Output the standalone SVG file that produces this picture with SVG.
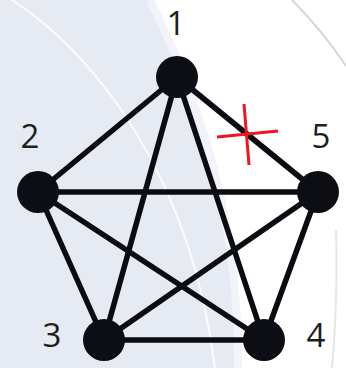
<svg xmlns="http://www.w3.org/2000/svg" width="346" height="368" viewBox="0 0 346 368">
<style>
.edge{stroke:#0b0c12;stroke-width:5.5;stroke-linecap:round;fill:none}
.node{fill:#0d0e14}
.lbl{font-family:"Open Sans","Liberation Sans",sans-serif;font-size:33px;fill:#1e1e1e;text-anchor:middle}
.cross{stroke:#f0141e;stroke-width:3;fill:none}
.wm{stroke:#d6d6d8;fill:none}
</style>
<g id="background">
<rect width="346" height="368" fill="#ffffff"/>
<path d="M0,0 L150,0 Q240,180 238,368 L0,368 Z" fill="#e6eaf3"/>
<path d="M12,0 C90,50 190,170 215,368" stroke="#ffffff" stroke-width="2" fill="none" opacity="0.85"/>
<path d="M150,0 Q240,180 238,368" stroke="#f2f4f9" stroke-width="8" fill="none"/>
<path class="wm" d="M292,0 Q322,30 346,66" stroke-width="2"/>
<path class="wm" d="M336,230 Q338,300 332,368" stroke-width="2" opacity="0.6"/>
</g>
<g id="connectors">
<line class="edge" x1="177" y1="77" x2="38" y2="192"/>
<line class="edge" x1="177" y1="77" x2="104" y2="340"/>
<line class="edge" x1="177" y1="77" x2="264" y2="340"/>
<line class="edge" x1="177" y1="77" x2="318" y2="192"/>
<line class="edge" x1="38" y1="192" x2="318" y2="192"/>
<line class="edge" x1="38" y1="192" x2="104" y2="340"/>
<line class="edge" x1="38" y1="192" x2="264" y2="340"/>
<line class="edge" x1="104" y1="340" x2="264" y2="340"/>
<line class="edge" x1="104" y1="340" x2="318" y2="192"/>
<line class="edge" x1="264" y1="340" x2="318" y2="192"/>
</g>
<g id="cut">
<line class="cross" x1="217" y1="137" x2="278" y2="131"/>
<line class="cross" x1="244" y1="104" x2="249" y2="165"/>
</g>
<g id="node1"><circle class="node" cx="177" cy="77" r="21"/><text class="lbl" x="176" y="35">1</text></g>
<g id="node2"><circle class="node" cx="38" cy="192" r="21"/><text class="lbl" x="30" y="148">2</text></g>
<g id="node3"><circle class="node" cx="104" cy="340" r="21"/><text class="lbl" x="52" y="347">3</text></g>
<g id="node4"><circle class="node" cx="264" cy="340" r="21"/><text class="lbl" x="316" y="347">4</text></g>
<g id="node5"><circle class="node" cx="318" cy="192" r="21"/><text class="lbl" x="321" y="148">5</text></g>
</svg>
